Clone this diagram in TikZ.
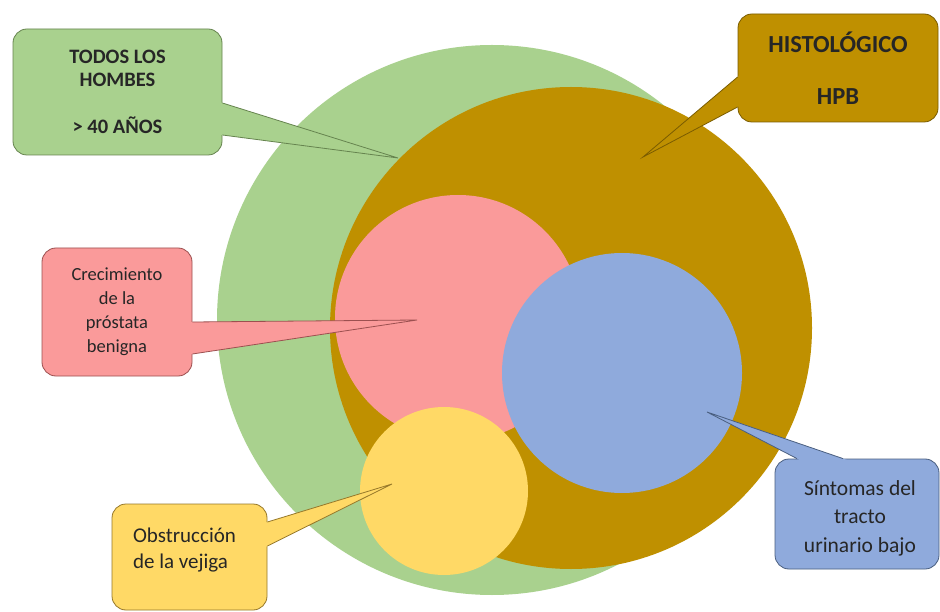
\documentclass[tikz,border=0pt]{standalone}
\usepackage{fontspec}
\setmainfont{Carlito}
\usetikzlibrary{calc}

\definecolor{verde}{HTML}{A9D18E}
\definecolor{verdeborde}{HTML}{66844F}
\definecolor{oro}{HTML}{BF9000}
\definecolor{oroborde}{HTML}{7A5C00}
\definecolor{rosa}{HTML}{FA9A9A}
\definecolor{rosaborde}{HTML}{9C5050}
\definecolor{azul}{HTML}{8FAADC}
\definecolor{azulborde}{HTML}{4A5F80}
\definecolor{amarillo}{HTML}{FFD966}
\definecolor{amarilloborde}{HTML}{96782A}

\tikzset{globo/.style={draw, rounded corners=14pt, line width=0.8pt, align=center, inner sep=0pt, text=black!85}}

% pointer of a callout: fill, border, foot a, foot b, tip
\newcommand{\puntero}[5]{%
\fill[#1] ($(#3)!-4pt!(#5)$) -- (#5) -- ($(#4)!-4pt!(#5)$) -- cycle;
\draw[#2, line width=0.8pt] (#3) -- (#5) -- (#4);
}

\begin{document}
\begin{tikzpicture}[x=1pt, y=-1pt]
\useasboundingbox (0,0) rectangle (940,612);
\fill[white] (0,0) rectangle (940,612);

\fill[verde] (492,320) circle (275);
\fill[oro] (571,328) circle (241);
\fill[rosa] (458,318) circle (123);
\fill[azul] (622,373) circle (120);
\fill[amarillo] (444,491) circle (84);

\coordinate (ptodos) at (398,158);
\coordinate (phisto) at (643,157);
\coordinate (pcrec) at (417,320);
\coordinate (pobst) at (392,484);
\coordinate (psint) at (707,412);

\node[globo, fill=verde, draw=verdeborde, minimum width=209, minimum height=126,
  font=\fontsize{20.5}{23.5}\selectfont\bfseries] (todos) at (117.5,92)
  {TODOS LOS\\HOMBES\\[23.5pt]> 40 AÑOS};
\node[globo, fill=oro, draw=oroborde, minimum width=200, minimum height=108,
  font=\fontsize{24.5}{25}\selectfont\bfseries] (histo) at (838,68)
  {HISTOLÓGICO\\[27pt]HPB};
\node[globo, fill=rosa, draw=rosaborde, minimum width=150, minimum height=128,
  font=\fontsize{18.5}{24}\selectfont] (crec) at (117,312)
  {Crecimiento\\de la\\próstata\\benigna};
\node[globo, fill=amarillo, draw=amarilloborde, minimum width=155, minimum height=106,
  font=\fontsize{21}{26}\selectfont] (obst) at (189.5,557) {};
\node[align=left, font=\fontsize{21}{26}\selectfont, text=black!85] (obsttxt)
  at ($(obst)+(-5,-7)$) {Obstrucción\\de la vejiga};
\node[globo, fill=azul, draw=azulborde, minimum width=164, minimum height=110,
  font=\fontsize{21.5}{28.5}\selectfont] (sint) at (857,514) {};
\node[align=center, font=\fontsize{21.5}{28.5}\selectfont, text=black!85] (sinttxt)
  at ($(sint)+(3,4)$) {Síntomas del\\tracto\\urinario bajo};

\puntero{verde}{verdeborde}{$(todos.east)+(0,11)$}{$(todos.east)+(0,43)$}{ptodos}
\puntero{oro}{oroborde}{$(histo.west)+(0,9)$}{$(histo.west)+(0,39)$}{phisto}
\puntero{rosa}{rosaborde}{$(crec.east)+(0,10)$}{$(crec.east)+(0,42)$}{pcrec}
\puntero{amarillo}{amarilloborde}{$(obst.east)+(0,-35)$}{$(obst.east)+(0,-11)$}{pobst}
\puntero{azul}{azulborde}{$(sint.north)+(-60,0)$}{$(sint.north)+(-14,0)$}{psint}
\end{tikzpicture}
\end{document}
